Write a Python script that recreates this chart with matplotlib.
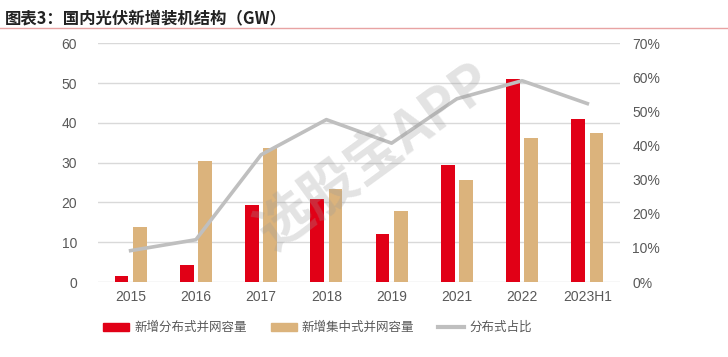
import numpy as np
import matplotlib
matplotlib.use('Agg')
import matplotlib.pyplot as plt
from matplotlib.ticker import PercentFormatter
from matplotlib.lines import Line2D
from matplotlib.patches import Patch

plt.rcParams['font.family'] = ['Noto Sans CJK SC', 'DejaVu Sans']

# data (GW / share)
years = ['2015', '2016', '2017', '2018', '2019', '2021', '2022', '2023H1']
distributed = [1.4, 4.3, 19.4, 20.9, 12.1, 29.3, 51.1, 41.0]
centralized = [13.7, 30.4, 33.6, 23.3, 17.9, 25.6, 36.3, 37.4]
dist_share = [9.2, 12.4, 37.3, 47.6, 40.7, 53.7, 59.0, 52.3]

RED = '#E10016'
TAN = '#DBB37C'
GRAY = '#BFBFBF'
TXT = '#595959'

fig = plt.figure(figsize=(7.28, 3.57), dpi=100)
ax = fig.add_axes([0.1346, 0.210, 0.717, 0.669])
ax2 = ax.twinx()

x = np.arange(len(years))
w = 0.21
ax.bar(x - 0.14, distributed, w, color=RED, zorder=3)
ax.bar(x + 0.14, centralized, w, color=TAN, zorder=3)

ax2.plot(x, dist_share, color=GRAY, linewidth=2.6, zorder=4)

ax.set_xlim(-0.5, len(years) - 0.5)
ax.set_ylim(0, 60)
ax.set_yticks(range(0, 61, 10))
ax2.set_ylim(0, 70)
ax2.set_yticks(range(0, 71, 10))
ax2.yaxis.set_major_formatter(PercentFormatter(decimals=0))

ax.set_xticks(x)
ax.set_xticklabels(years)
ax.grid(axis='y', color='#D9D9D9', linewidth=1, zorder=0)
ax.set_axisbelow(True)

for a in (ax, ax2):
    for s in a.spines.values():
        s.set_visible(False)
    a.tick_params(length=0, colors=TXT, labelsize=10)
    for lbl in a.get_xticklabels() + a.get_yticklabels():
        lbl.set_family(['Liberation Sans', 'DejaVu Sans'])
ax.tick_params(axis='y', pad=15)
ax2.tick_params(axis='y', pad=9)
ax.tick_params(axis='x', pad=6)

# title and rule under it
fig.text(0.007, 0.975, '图表3：国内光伏新增装机结构（GW）', fontsize=11.8,
         fontweight='bold', va='top', ha='left', color='#222222')
fig.add_artist(Line2D([0, 1], [0.922, 0.922], color='#E8A3A3', linewidth=1))

# watermark
fig.text(0.515, 0.56, '选股宝APP', fontsize=40, rotation=36, color='#9A9A9A',
         alpha=0.28, ha='center', va='center', fontweight='bold')

handles = [Patch(color=RED), Patch(color=TAN), Line2D([0], [0], color=GRAY, linewidth=3)]
labels = ['新增分布式并网容量', '新增集中式并网容量', '分布式占比']
fig.legend(handles, labels, loc='center left', bbox_to_anchor=(0.1415, 0.082), ncol=3,
           frameon=False, fontsize=9, handlelength=2.1, handleheight=0.6,
           columnspacing=1.9, handletextpad=0.4, labelcolor=TXT,
           borderaxespad=0, borderpad=0)

fig.savefig('out.png', dpi=100)
